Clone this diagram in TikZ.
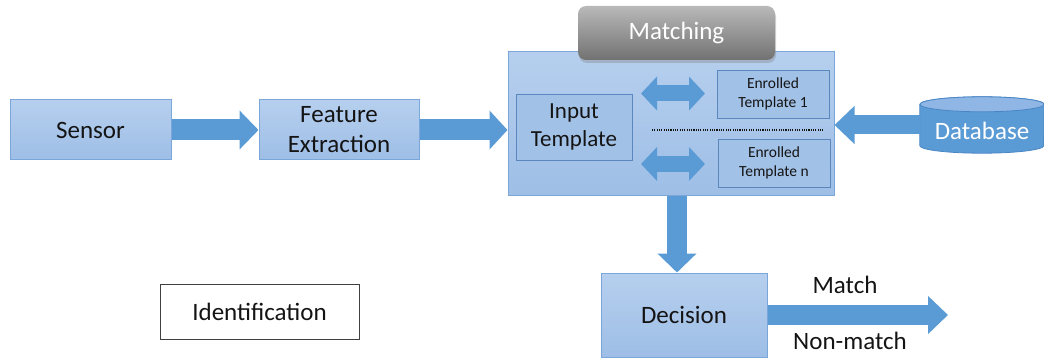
\documentclass[tikz,border=0pt]{standalone}
\usepackage{fontspec}
\setmainfont{Carlito}
\usetikzlibrary{arrows.meta,calc,shadows}
\definecolor{boxtop}{HTML}{B6CFEE}
\definecolor{boxbot}{HTML}{9EBEE6}
\definecolor{boxline}{HTML}{7AA6DA}
\definecolor{innerline}{HTML}{5A87BE}
\definecolor{arrowblue}{HTML}{5B9BD5}
\definecolor{dbtop}{HTML}{8FB6E4}
\definecolor{dbline}{HTML}{4A86C5}
\definecolor{txt}{HTML}{141414}
\tikzset{
  bluebox/.style={draw=boxline, line width=1pt, top color=boxtop, bottom color=boxbot, shading=axis, inner sep=0pt, align=center, text=txt, font=\fontsize{25}{30}\selectfont},
  innerbox/.style={draw=innerline, line width=0.8pt, fill=boxbot!85!boxtop, inner sep=0pt, align=center, text=txt},
  bigarrow/.style={draw=arrowblue, line width=#1},
  lbl/.style={text=txt, font=\fontsize{25}{30}\selectfont, inner sep=0pt},
}
\begin{document}
\begin{tikzpicture}[x=1pt,y=-1pt]
\useasboundingbox (0,0) rectangle (1044,358);
% blocks
\node[bluebox, minimum width=161, minimum height=60] (sensor) at (90.5,130) {Sensor};
\node[bluebox, minimum width=160, minimum height=60] (fe) at (339,130) {Feature\\Extraction};
\node[bluebox, minimum width=326, minimum height=144] (match) at (671,124) {};
\node[draw=none, rounded corners=8pt, top color=gray!55, bottom color=gray!95!white!85!black, shading=axis,
      minimum width=197, minimum height=54, inner sep=0pt, text=white,
      font=\fontsize{25}{30}\selectfont,
      drop shadow={shadow xshift=1pt, shadow yshift=-3pt, opacity=0.35}] (tab) at (676.5,33) {Matching};
\node[innerbox, minimum width=116, minimum height=66, font=\fontsize{23}{28}\selectfont] (input) at (574,127) {Input\\Template};
\node[innerbox, minimum width=112, minimum height=48, font=\fontsize{15.5}{18.5}\selectfont] (e1) at (773,94) {Enrolled\\Template 1};
\node[innerbox, minimum width=112, minimum height=48, font=\fontsize{15.5}{18.5}\selectfont] (en) at (774,163) {Enrolled\\Template n};
\node[bluebox, minimum width=166, minimum height=84] (dec) at (684,315) {Decision};
\node[draw=black!75, line width=1pt, fill=white, minimum width=199, minimum height=55, inner sep=0pt, text=txt, font=\fontsize{25}{30}\selectfont] (ident) at (259.5,311.5) {Identification};
% database cylinder
\node[minimum width=124, minimum height=56, inner sep=0pt] (db) at (982,125) {};
\path[fill=arrowblue, draw=dbline, line width=0.8pt]
  ($(db.north west)+(0,7.5)$) -- ($(db.south west)+(0,-7.5)$)
  arc[start angle=180, end angle=360, x radius=62, y radius=-7.5]
  -- ($(db.north east)+(0,7.5)$) arc[start angle=0, end angle=180, x radius=62, y radius=-7.5] -- cycle;
\path[fill=dbtop, draw=dbline, line width=0.8pt] ($(db.north)+(0,7.5)$) ellipse[x radius=62, y radius=7.5];
\node[text=white, font=\fontsize{25}{30}\selectfont, inner sep=0pt] (dbtext) at ($(db.center)+(0,6)$) {Database};
% arrows
\draw[bigarrow=21pt, -{Triangle[length=19pt, width=38pt]}] (sensor.east) -- (fe.west);
\draw[bigarrow=21pt, -{Triangle[length=18pt, width=38pt]}] (fe.east) -- (fe.east -| match.west);
\draw[bigarrow=19pt, -{Triangle[length=20pt, width=37pt]}] (db.west) -- (db.west -| match.east);
\coordinate (mdown) at ($(match.south)+(6,0)$);
\draw[bigarrow=20pt, -{Triangle[length=19pt, width=38pt]}] (mdown) -- (mdown |- dec.north);
\coordinate (out) at (948,315);
\draw[bigarrow=20pt, -{Triangle[length=20pt, width=37pt]}] (dec.east) -- (out);
% double arrows
\coordinate (d1a) at (641,93.5);
\coordinate (d1b) at (705,93.5);
\coordinate (d2a) at (641,164);
\coordinate (d2b) at (705,164);
\draw[bigarrow=16pt, {Triangle[length=16pt, width=33pt]}-{Triangle[length=16pt, width=33pt]}] (d1a) -- (d1b);
\draw[bigarrow=16pt, {Triangle[length=16pt, width=33pt]}-{Triangle[length=16pt, width=33pt]}] (d2a) -- (d2b);
% dotted separator
\coordinate (s1) at (652,130);
\coordinate (s2) at (823,130);
\draw[txt, line width=1.1pt, dash pattern=on 1.1pt off 1.2pt] (s1) -- (s2);
% labels
\node[lbl] (lmatch) at (845,285) {Match};
\node[lbl] (lnon) at (850,341) {Non-match};
\end{tikzpicture}
\end{document}
